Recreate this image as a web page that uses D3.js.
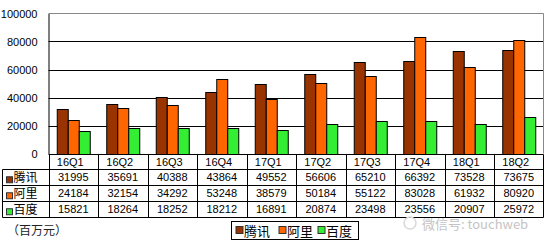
<!DOCTYPE html>
<html>
<head>
<meta charset="utf-8">
<script src="https://cdn.jsdelivr.net/npm/d3@7/dist/d3.min.js"></script>
<style>
  body { margin: 0; background: #fff; }
  text { font-family: "Liberation Sans", Arial, sans-serif; }
  .cjk { font-family: "Noto Sans CJK SC", sans-serif; }
</style>
</head>
<body>
<div id="chart"></div>
<script>
// quarterly revenue, millions of yuan
var quarters = ["16Q1", "16Q2", "16Q3", "16Q4", "17Q1", "17Q2", "17Q3", "17Q4", "18Q1", "18Q2"];
var seriesNames = ["腾讯", "阿里", "百度"];
var tencent = [31995, 35691, 40388, 43864, 49552, 56606, 65210, 66392, 73528, 73675];
var alibaba = [24184, 32154, 34292, 53248, 38579, 50184, 55122, 83028, 61932, 80920];
var baidu = [15821, 18264, 18252, 18212, 16891, 20874, 23498, 23556, 20907, 25972];
var yTicks = [0, 20000, 40000, 60000, 80000, 100000];
var colors = ["#993300", "#FF6600", "#33EE33"];

var allSeries = [tencent, alibaba, baidu];

var width = 548, height = 244;
var pLeft = 48.5, pRight = 543.5, pTop = 13.5, pBottom = 153.5;
var rowH = 15.75;

var svg = d3.select("#chart").append("svg").attr("width", width).attr("height", height);

var x = d3.scaleBand().domain(quarters).range([pLeft, pRight]);
var y = d3.scaleLinear().domain([0, 100000]).range([pBottom, pTop]);
var groupW = 33;
var x1 = d3.scaleBand().domain(seriesNames).range([0, groupW]);

// grid lines
svg.append("g").selectAll("line").data(yTicks.filter(function(d) { return d > 0 && d < 100000; }))
    .enter().append("line")
    .attr("x1", pLeft).attr("x2", pRight)
    .attr("y1", function(d) { return Math.round(y(d)) + 0.5; })
    .attr("y2", function(d) { return Math.round(y(d)) + 0.5; })
    .attr("stroke", "#000").attr("stroke-width", 1);

// plot border (gray top/right)
svg.append("path")
    .attr("d", "M" + pLeft + "," + pTop + "H" + pRight + "V" + pBottom)
    .attr("fill", "none").attr("stroke", "#888");

// y axis
var yAxis = d3.axisLeft(y).tickValues(yTicks).tickFormat(d3.format("d")).tickSize(0).tickPadding(11);
var yg = svg.append("g").attr("transform", "translate(" + pLeft + ",0)").call(yAxis);
yg.select(".domain").attr("stroke", "#000");
yg.selectAll("text").attr("font-size", 11).attr("fill", "#000")
    .attr("font-family", "Liberation Sans, Arial, sans-serif");

// bars
var groups = svg.append("g").selectAll("g").data(quarters).enter().append("g")
    .attr("transform", function(d) { return "translate(" + (x(d) + (x.bandwidth() - groupW) / 2) + ",0)"; });

groups.selectAll("rect").data(function(q, i) {
        return seriesNames.map(function(s, j) { return { s: s, j: j, v: allSeries[j][i] }; });
    })
    .enter().append("rect")
    .attr("x", function(d) { return Math.round(x1(d.s)) + 0.5; })
    .attr("width", x1.bandwidth())
    .attr("y", function(d) { return Math.round(y(d.v)) + 0.5; })
    .attr("height", function(d) { return Math.round(y(0)) - Math.round(y(d.v)); })
    .attr("fill", function(d) { return colors[d.j]; })
    .attr("stroke", "#000").attr("stroke-width", 1);

// data table
var tbl = svg.append("g");
var rowY = function(i) { return Math.round(pBottom + i * rowH) + 0.5; };
var tLeft = 2.5;

tbl.append("line").attr("x1", pLeft).attr("x2", pRight).attr("y1", rowY(0)).attr("y2", rowY(0)).attr("stroke", "#000");
for (var r = 1; r <= 4; r++) {
    tbl.append("line").attr("x1", tLeft).attr("x2", pRight).attr("y1", rowY(r)).attr("y2", rowY(r)).attr("stroke", "#000");
}
tbl.append("line").attr("x1", tLeft).attr("x2", tLeft).attr("y1", rowY(1)).attr("y2", rowY(4)).attr("stroke", "#000");
quarters.forEach(function(q) {
    var xx = Math.round(x(q)) + 0.5;
    tbl.append("line").attr("x1", xx).attr("x2", xx).attr("y1", rowY(0)).attr("y2", rowY(4)).attr("stroke", "#000");
});
tbl.append("line").attr("x1", pRight).attr("x2", pRight).attr("y1", rowY(0)).attr("y2", rowY(4)).attr("stroke", "#000");

// header row
tbl.selectAll("text.cat").data(quarters).enter().append("text")
    .attr("class", "cat")
    .attr("x", function(d) { return x(d) + x.bandwidth() / 2 - 3; })
    .attr("y", rowY(0) + rowH / 2 + 4)
    .attr("text-anchor", "middle").attr("font-size", 11).text(function(d) { return d; });

// series rows
seriesNames.forEach(function(s, j) {
    var ry = rowY(j + 1);
    tbl.append("rect").attr("x", 6.5).attr("y", ry + rowH - 8.5).attr("width", 6).attr("height", 6)
        .attr("fill", colors[j]).attr("stroke", "#333").attr("stroke-width", 1);
    tbl.append("text").attr("class", "cjk").attr("x", 13.5).attr("y", ry + rowH - 3)
        .attr("font-size", 12).text(s);
    tbl.selectAll(null).data(allSeries[j]).enter().append("text")
        .attr("x", function(d, i) { return x(quarters[i]) + x.bandwidth() / 2; })
        .attr("y", ry + rowH / 2 + 4)
        .attr("text-anchor", "middle").attr("font-size", 11)
        .text(function(d) { return d; });
});

// unit label
svg.append("text").attr("class", "cjk").attr("x", 7).attr("y", 235).attr("font-size", 12)
    .attr("fill", "#222").text("（百万元）");

// legend
var lg = svg.append("g").attr("transform", "translate(231.5,221.5)");
lg.append("rect").attr("width", 127).attr("height", 18).attr("fill", "#fff").attr("stroke", "#000");
var legX = [4.5, 47.5, 86.5];
seriesNames.forEach(function(s, j) {
    lg.append("rect").attr("x", legX[j]).attr("y", 5).attr("width", 7).attr("height", 7)
        .attr("fill", colors[j]).attr("stroke", "#333");
    lg.append("text").attr("class", "cjk").attr("x", legX[j] + 8).attr("y", 14.5)
        .attr("font-size", 13).text(s);
});

// watermark
svg.append("text").attr("class", "cjk").attr("x", 422).attr("y", 229)
    .attr("font-size", 13).attr("fill", "#c4c4c4").text("微信号: touchweb");
svg.append("circle").attr("cx", 410).attr("cy", 223).attr("r", 6)
    .attr("fill", "none").attr("stroke", "#d8d8d8").attr("stroke-width", 1.5);
</script>
</body>
</html>
